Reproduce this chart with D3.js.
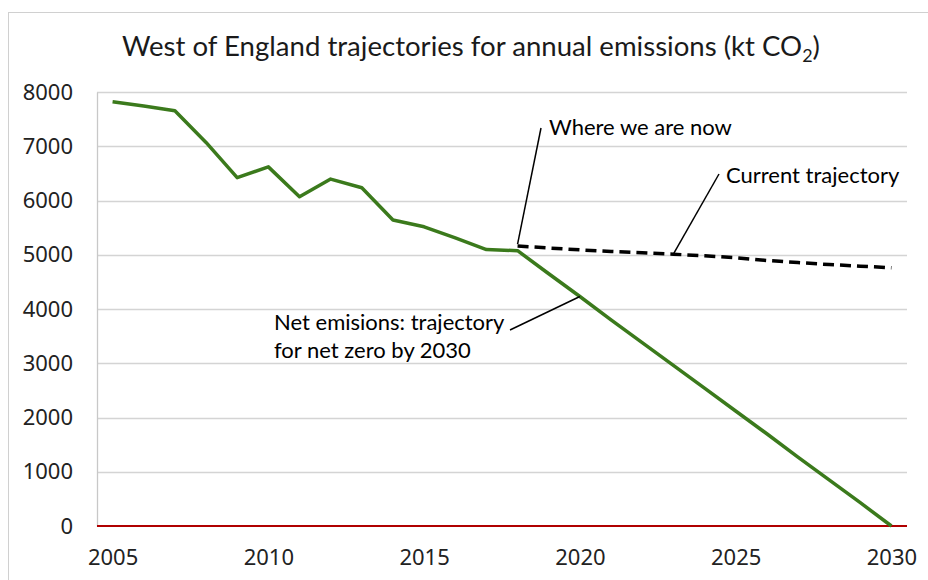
<!DOCTYPE html>
<html>
<head>
<meta charset="utf-8">
<script src="https://cdn.jsdelivr.net/npm/d3@7"></script>
<style>
  html, body { margin: 0; padding: 0; background: #fff; }
  svg { display: block; }
</style>
</head>
<body>
<svg id="chart" width="928" height="580"></svg>
<script>
// ---- data ----
const years = [2005, 2006, 2007, 2008, 2009, 2010, 2011, 2012, 2013, 2014, 2015, 2016, 2017,
               2018, 2019, 2020, 2021, 2022, 2023, 2024, 2025, 2026, 2027, 2028, 2029, 2030];
const netEmissions = [7820, 7740, 7655, 7070, 6420, 6620, 6070, 6395, 6235, 5640, 5515, 5310, 5095,
                      5075, 4650, 4230, 3800, 3380, 2960, 2540, 2120, 1700, 1270, 850, 430, 0];
const currentYears = [2018, 2019, 2020, 2021, 2022, 2023, 2024, 2025, 2026, 2027, 2028, 2029, 2030];
const currentTrajectory = [5160, 5125, 5090, 5060, 5035, 5010, 4980, 4945, 4895, 4855, 4820, 4790, 4760];
const yTicks = [0, 1000, 2000, 3000, 4000, 5000, 6000, 7000, 8000];
const xTickLabels = [2005, 2010, 2015, 2020, 2025, 2030];
const titleText = "West of England trajectories for annual emissions (kt CO";
const annotations = [
  { lines: ["Where we are now"], year: 2018, value: 5160 },
  { lines: ["Current trajectory"], year: 2023, value: 5010 },
  { lines: ["Net emisions: trajectory", "for net zero by 2030"], year: 2020, value: 4230 }
];

// ---- layout ----
const svg = d3.select("#chart");
const plot = { left: 97, right: 907, top: 92, bottom: 526 };
const x = d3.scalePoint().domain(years).range([plot.left, plot.right]).padding(0.5);
const y = d3.scaleLinear().domain([0, 8000]).range([plot.bottom, plot.top]);
const font = "Lato, 'Open Sans', sans-serif";
const tickFont = "'Noto Sans', sans-serif";

// outer chart border
svg.append("rect")
  .attr("x", 8.5).attr("y", 12.5).attr("width", 960).attr("height", 620)
  .attr("fill", "none").attr("stroke", "#d0d0d0").attr("stroke-width", 1);

// title
const title = svg.append("text")
  .attr("x", 471).attr("y", 56)
  .attr("text-anchor", "middle")
  .attr("font-family", font).attr("font-size", 22).attr("fill", "#1a1a1a");
title.append("tspan").text(titleText);
title.append("tspan").attr("font-size", 14).attr("dy", 5).text("2");
title.append("tspan").attr("dy", -5).text(")");
// fit title width to reference (~698px)
const tw = title.node().getComputedTextLength();
const fs = 22 * 698 / tw;
title.attr("font-size", fs);
title.selectAll("tspan").filter((d, i) => i === 1).attr("font-size", fs * 0.65).attr("dy", fs * 0.22);
title.selectAll("tspan").filter((d, i) => i === 2).attr("dy", -fs * 0.22);

// gridlines
svg.append("g")
  .selectAll("line")
  .data(yTicks.filter(t => t > 0))
  .join("line")
  .attr("x1", plot.left).attr("x2", plot.right)
  .attr("y1", d => Math.round(y(d)) + 0.5).attr("y2", d => Math.round(y(d)) + 0.5)
  .attr("stroke", "#d4d4d4").attr("stroke-width", 1.3);

// y axis
const yAxis = svg.append("g")
  .attr("transform", `translate(${plot.left},0)`)
  .call(d3.axisLeft(y).tickValues(yTicks).tickSize(0).tickPadding(24).tickFormat(d3.format("d")));
yAxis.select(".domain").attr("stroke", "#c8c8c8").attr("stroke-width", 1.3);
yAxis.selectAll("text").attr("font-family", tickFont).attr("font-size", 22).attr("fill", "#222");

// x axis
const xAxis = svg.append("g")
  .attr("transform", `translate(0,${plot.bottom})`)
  .call(d3.axisBottom(x).tickValues(xTickLabels).tickSize(0).tickPadding(23).tickFormat(d3.format("d")));
xAxis.select(".domain").remove();
xAxis.selectAll("text").attr("font-family", tickFont).attr("font-size", 22).attr("fill", "#222");

// zero line
svg.append("line")
  .attr("x1", plot.left).attr("x2", plot.right)
  .attr("y1", y(0)).attr("y2", y(0))
  .attr("stroke", "#b00000").attr("stroke-width", 2);

// net emissions line
const line = d3.line().x(d => x(d[0])).y(d => y(d[1]));
svg.append("path")
  .datum(years.map((yr, i) => [yr, netEmissions[i]]))
  .attr("d", line)
  .attr("fill", "none").attr("stroke", "#3b7a1c").attr("stroke-width", 3.5)
  .attr("stroke-linejoin", "round");

// current trajectory dashed line
svg.append("path")
  .datum(currentYears.map((yr, i) => [yr, currentTrajectory[i]]))
  .attr("d", line)
  .attr("fill", "none").attr("stroke", "#000").attr("stroke-width", 3.5)
  .attr("stroke-dasharray", "11,6");

// annotations: label positions relative to the plot
const annoLayout = [
  { tx: 549, ty: 135, lx1: 541, ly1: 128, dy: -2 },
  { tx: 726, ty: 183, lx1: 719, ly1: 174, dy: 0 },
  { tx: 274, ty: 330, lx1: 510, ly1: 330, dy: 0, lh: 28 }
];
annotations.forEach((a, i) => {
  const L = annoLayout[i];
  const px = x(a.year), py = y(a.value) + L.dy;
  svg.append("line")
    .attr("x1", L.lx1).attr("y1", L.ly1).attr("x2", px).attr("y2", py)
    .attr("stroke", "#000").attr("stroke-width", 1.5);
  const t = svg.append("text")
    .attr("x", L.tx).attr("y", L.ty)
    .attr("font-family", font).attr("font-size", 22).attr("fill", "#000");
  a.lines.forEach((ln, j) => {
    t.append("tspan").attr("x", L.tx).attr("dy", j === 0 ? 0 : (L.lh || 22)).text(ln);
  });
});
</script>
</body>
</html>
